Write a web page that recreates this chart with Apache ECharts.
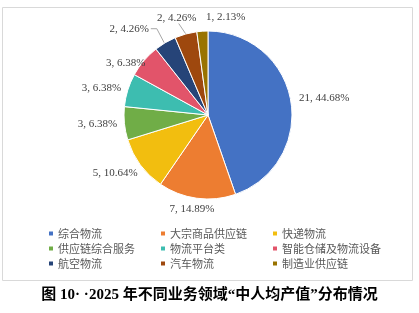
<!DOCTYPE html>
<html><head><meta charset="utf-8">
<script src="https://cdn.jsdelivr.net/npm/echarts@6/dist/echarts.min.js"></script>
<style>html,body{margin:0;padding:0;background:#fff}#c{width:419px;height:313px}</style>
</head><body><div id="c"></div>
<script>
const categories = ['综合物流','大宗商品供应链','快递物流','供应链综合服务','物流平台类','智能仓储及物流设备','航空物流','汽车物流','制造业供应链'];
const values = [21,7,5,3,3,3,2,2,1];
const percents = ['44.68%','14.89%','10.64%','6.38%','6.38%','6.38%','4.26%','4.26%','2.13%'];
const colors = ['#4472C4','#ED7D31','#F2BE0F','#70AD47','#3DBDB0','#E2546A','#264478','#9E480E','#997300'];
const titleText = '图 10· ·2025 年不同业务领域“中人均产值”分布情况';

const CX = 208, CY = 115, R = 84;
// label offsets (style only): extra shift applied to label anchors
const labelNudge = [[3,2],[-3,-2],[-4,-7],[-2,-2],[-2,6],[0,18],[-26,3],[-5,-1],[24,-2]];
const total = values.reduce((a,b)=>a+b,0);
const midAngles = [];
{ let acc = 0; values.forEach(v=>{ midAngles.push((acc + v/2)/total*2*Math.PI); acc += v; }); }

const chart = echarts.init(document.getElementById('c'));
const legendCols = [[0,3,6],[1,4,7],[2,5,8]];
const legendLefts = [42, 154, 266];
const legends = legendCols.map((idx,i)=>({
  orient:'vertical', left: legendLefts[i], top: 223, itemGap: 4,
  itemWidth: 6, itemHeight: 6, icon: 'rect',
  data: idx.map(k=>categories[k]),
  textStyle:{fontFamily:'Noto Sans CJK SC', fontSize:11, color:'#595959', padding:[0,0,0,-1]}
}));
const showLine = [false,false,false,false,false,false,true,true,false];
chart.setOption({
  animation:false,
  color: colors,
  legend: legends,
  graphic:[
    {type:'rect', shape:{x:2.5,y:7.5,width:410,height:273}, style:{fill:'none', stroke:'#d9d9d9', lineWidth:1}},
    {type:'text', left:'center', top:288, style:{text:titleText, font:'bold 15px "Liberation Serif", "Noto Sans CJK SC"', fill:'#000'}}
  ],
  series:[{
    type:'pie', center:[CX,CY], radius:[0,R], startAngle:90, clockwise:true,
    avoidLabelOverlap:false,
    itemStyle:{borderColor:'#fff', borderWidth:1},
    label:{show:true, position:'outside', formatter:(p)=>p.value+', '+percents[p.dataIndex],
      fontFamily:'Liberation Serif', fontSize:11, color:'#404040'},
    labelLine:{length:6, length2:6, lineStyle:{color:'#a6a6a6', width:1}},
    labelLayout:(p)=>{
      const i = p.dataIndex, a = midAngles[i];
      const s = Math.sin(a), c = Math.cos(a);
      const hw = p.labelRect.width/2, hh = p.labelRect.height/2;
      const d = R + 5 + Math.abs(s)*hw + Math.abs(c)*hh;
      const x = CX + d*s + labelNudge[i][0];
      const y = CY - d*c + labelNudge[i][1];
      const res = {x:x, y:y, align:'center', verticalAlign:'middle'};
      const ex = CX + R*s, ey = CY - R*c;
      if (showLine[i]) {
        if (i === 6) res.labelLinePoints = [[ex-1,ey],[x+hw+8,y],[x+hw+2,y]];
        else res.labelLinePoints = [[ex,ey],[x+2,y+hh],[x+2,y+hh]];
      }
      return res;
    },
    data: categories.map((n,i)=>({name:n, value:values[i], labelLine:{show:showLine[i]}}))
  }]
});
</script></body></html>
